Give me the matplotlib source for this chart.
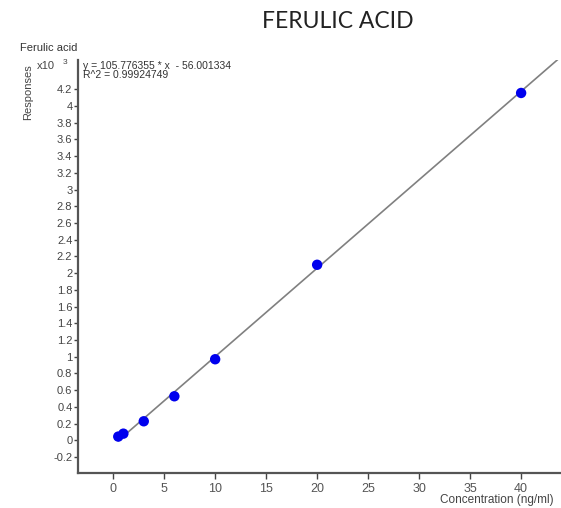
import matplotlib
matplotlib.use("Agg")
import matplotlib.pyplot as plt
import numpy as np

# Calibration standards (concentration in ng/ml, response in units of 10^3)
concentration = [0.5, 1, 3, 6, 10, 20, 40]
response_k = [0.045, 0.080, 0.228, 0.527, 0.970, 2.100, 4.155]

# Linear fit reported by the instrument software
slope = 105.776355
intercept = -56.001334
r_squared = 0.99924749

x_ticks = [0, 5, 10, 15, 20, 25, 30, 35, 40]
y_ticks = [round(-0.2 + 0.2 * i, 1) for i in range(23)]

plt.rcParams['font.family'] = ['Liberation Sans', 'DejaVu Sans']

fig = plt.figure(figsize=(5.61, 5.08), dpi=100)
ax = fig.add_axes([0.139, 0.069, 0.859, 0.813])

xmin, xmax = -3.45, 43.8
ymin, ymax = -0.39, 4.55
ax.set_xlim(xmin, xmax)
ax.set_ylim(ymin, ymax)

# fitted line from the lowest standard to the right edge
fx = np.array([min(concentration), xmax])
fy = (slope * fx + intercept) / 1000.0
ax.plot(fx, fy, color='#808080', lw=1.2, zorder=2)

ax.scatter(concentration, response_k, s=56, color='#0000ee', zorder=3,
           edgecolors='none')

ax.set_xticks(x_ticks)
ax.set_yticks(y_ticks)
ax.set_yticklabels([f"{v:g}" for v in y_ticks])
ax.tick_params(axis='y', direction='out', length=3, width=1, colors='#444444',
               labelsize=8, pad=1, labelcolor='#444444')
ax.tick_params(axis='x', direction='out', length=4, width=1, colors='#444444',
               labelsize=9, pad=3, labelcolor='#555555')

for s in ('top', 'right'):
    ax.spines[s].set_visible(False)
for s in ('left', 'bottom'):
    ax.spines[s].set_color('#555555')
    ax.spines[s].set_linewidth(1.6)

# equation annotation
ax.text(0.011, 0.998, f"y = {slope:.6f} * x  - {abs(intercept):.6f}",
        transform=ax.transAxes, fontsize=7.5, color='#333333',
        ha='left', va='top', linespacing=0.9)
ax.text(0.011, 0.976, f"R^2 = {r_squared:.8f}",
        transform=ax.transAxes, fontsize=7.5, color='#333333',
        ha='left', va='top')

fig.text(20 / 561, 1 - 48 / 508, "Ferulic acid", fontsize=8,
         color='#333333', ha='left', va='center')
fig.text(37 / 561, 1 - 66 / 508, "x10", fontsize=8, color='#444444',
         ha='left', va='center')
fig.text(63 / 561, 1 - 62 / 508, "3", fontsize=6, color='#444444',
         ha='left', va='center')
fig.text(28 / 561, 1 - 92 / 508, "Responses", fontsize=8, color='#444444',
         rotation=90, ha='center', va='center')
fig.text(497 / 561, 1 - 500 / 508, "Concentration (ng/ml)", fontsize=8.5,
         color='#444444', ha='center', va='center')

fig.text(338 / 561, 1 - 22 / 508, "FERULIC ACID", fontsize=16.5,
         family=['Lato', 'DejaVu Sans'], color='#222222',
         ha='center', va='center')

fig.savefig("out.png", dpi=100, facecolor='white')
